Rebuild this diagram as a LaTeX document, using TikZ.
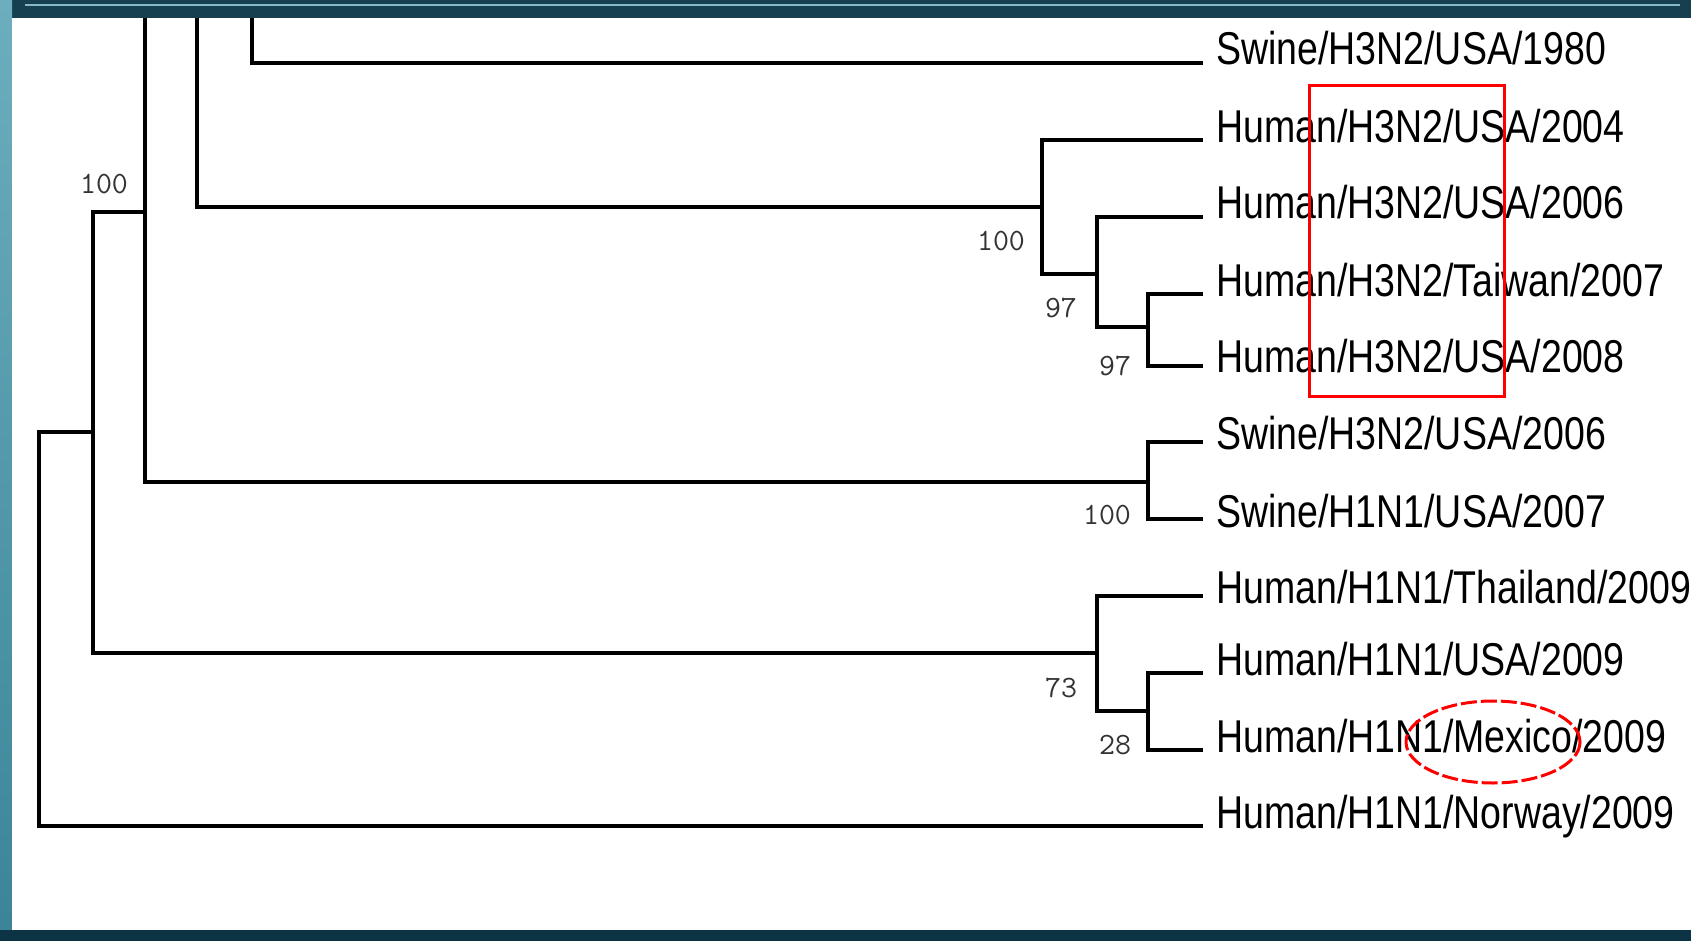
\documentclass[tikz,border=0pt]{standalone}
\usepackage{fontspec}
\usepackage{graphicx}
\setmainfont{Liberation Sans}
\definecolor{frameDark}{HTML}{163F50}
\definecolor{frameBot}{HTML}{0D3444}
\definecolor{frameLightA}{HTML}{6CAEBE}
\definecolor{frameLightB}{HTML}{3B8498}
\definecolor{frameLine}{HTML}{86BAC6}
\definecolor{bootgray}{HTML}{333333}
\newcommand{\leaflab}[1]{\scalebox{0.815}[1]{#1}}
\begin{document}
\begin{tikzpicture}[x=1pt,y=-1pt,
  branch/.style={line width=4.6pt, line join=miter},
  leaf/.style={anchor=base west, inner sep=0pt, font=\fontsize{46}{50}\selectfont},
  boot/.style={inner sep=0pt, text=bootgray, font=\ttfamily\fontsize{31}{31}\selectfont},
  hilite/.style={draw=red, line width=3pt}]
\useasboundingbox (0,0) rectangle (1691,941);
% slide frame
\fill[frameDark] (0,0) rectangle (1691,941);
\shade[top color=frameLightA, bottom color=frameLightB] (0,0) rectangle (12,941);
\fill[frameBot] (0,930) rectangle (1691,941);
\draw[frameLine, line width=1.5pt] (25,5) -- (1680,5);
\fill[white] (12,18) rectangle (1691,930);

% leaf end points
\coordinate (e1) at (1203,63);
\coordinate (e2) at (1203,140);
\coordinate (e3) at (1203,217);
\coordinate (e4) at (1203,294);
\coordinate (e5) at (1203,366);
\coordinate (e6) at (1203,442);
\coordinate (e7) at (1203,519);
\coordinate (e8) at (1203,596);
\coordinate (e9) at (1203,673);
\coordinate (e10) at (1203,750);
\coordinate (e11) at (1203,826);
% internal nodes (stem points)
\coordinate (s45) at (1148,327);
\coordinate (s345) at (1097,274);
\coordinate (s2345) at (1042,207);
\coordinate (s67) at (1148,482);
\coordinate (s910) at (1148,711);
\coordinate (s8910) at (1097,653);
\coordinate (sC) at (145,212);
\coordinate (sD) at (93,432);
\coordinate (sR) at (39,600);
% branches cut by the top edge
\coordinate (topA) at (197,18);
\coordinate (topB) at (252,18);
\coordinate (topC) at (145,18);

% leaf labels
\node[leaf] (t1) at (1216,65) {\leaflab{Swine/H3N2/USA/1980}};
\node[leaf] (t2) at (1216,143) {\leaflab{Human/H3N2/USA/2004}};
\node[leaf] (t3) at (1216,219) {\leaflab{Human/H3N2/USA/2006}};
\node[leaf] (t4) at (1216,296) {\leaflab{Human/H3N2/Taiwan/2007}};
\node[leaf] (t5) at (1216,372) {\leaflab{Human/H3N2/USA/2008}};
\node[leaf] (t6) at (1216,449) {\leaflab{Swine/H3N2/USA/2006}};
\node[leaf] (t7) at (1216,527) {\leaflab{Swine/H1N1/USA/2007}};
\node[leaf] (t8) at (1216,603) {\leaflab{Human/H1N1/Thailand/2009}};
\node[leaf] (t9) at (1216,675) {\leaflab{Human/H1N1/USA/2009}};
\node[leaf] (t10) at (1216,752) {\leaflab{Human/H1N1/Mexico/2009}};
\node[leaf] (t11) at (1216,828) {\leaflab{Human/H1N1/Norway/2009}};

% tree
\draw[branch] (topB) |- (e1);
\draw[branch] (topA) |- (s2345);
\draw[branch] (e2) -| (s2345) |- (s345);
\draw[branch] (e3) -| (s345) |- (s45);
\draw[branch] (e4) -| (s45) |- (e5);
\draw[branch] (topC) |- (s67);
\draw[branch] (e6) -| (s67) |- (e7);
\draw[branch] (sC) -| (sD) |- (s8910);
\draw[branch] (e8) -| (s8910) |- (s910);
\draw[branch] (e9) -| (s910) |- (e10);
\draw[branch] (sD) -| (sR) |- (e11);

% bootstrap values
\node[boot] (b1) at (104,184) {100};
\node[boot] (b2) at (1001,241) {100};
\node[boot] (b3) at (1061,308) {97};
\node[boot] (b4) at (1115,366) {97};
\node[boot] (b5) at (1107,515) {100};
\node[boot] (b6) at (1061,688) {73};
\node[boot] (b7) at (1115,745) {28};

% highlights
\draw[hilite] (1309,86) rectangle (1504,396);
\draw[hilite, dash pattern=on 16pt off 4pt] (1493,742) ellipse [x radius=87pt, y radius=41pt];
\end{tikzpicture}
\end{document}
